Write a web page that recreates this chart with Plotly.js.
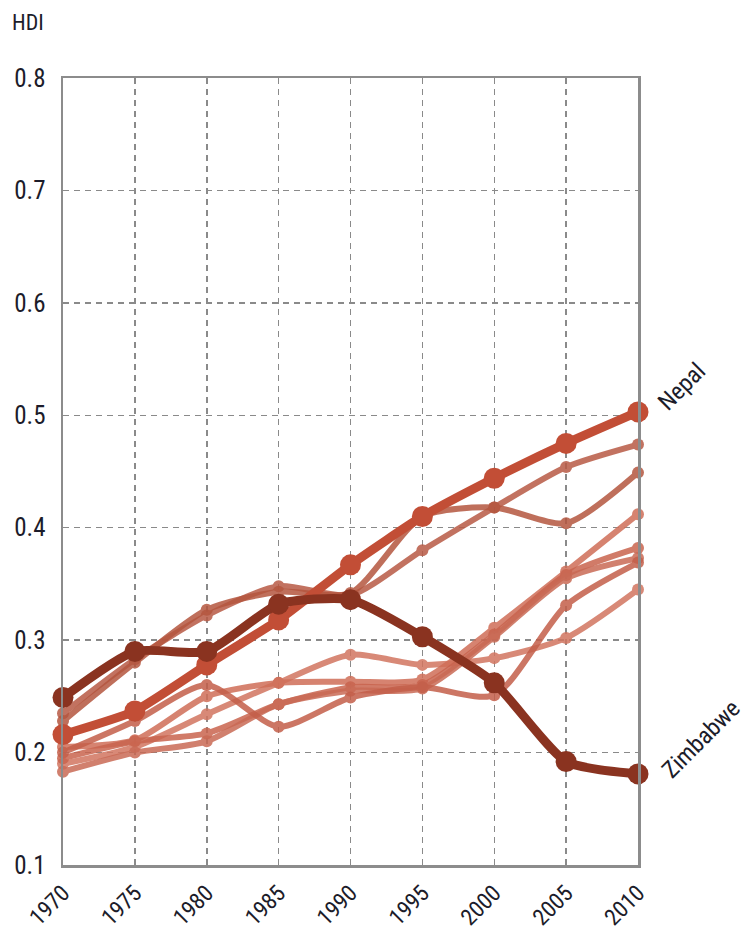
<!DOCTYPE html>
<html>
<head>
<meta charset="utf-8">
<script src="https://cdn.plot.ly/plotly-3.0.1.min.js"></script>
<style>html,body{margin:0;padding:0;background:#fff;}#chart{width:748px;height:937px;}</style>
</head>
<body>
<div id="chart"></div>
<script>
const years = [1970, 1975, 1980, 1985, 1990, 1995, 2000, 2005, 2010];
const yTicks = [0.1, 0.2, 0.3, 0.4, 0.5, 0.6, 0.7, 0.8];
const yTickLabels = ["0.1", "0.2", "0.3", "0.4", "0.5", "0.6", "0.7", "0.8"];

const nepal    = [0.216, 0.237, 0.278, 0.318, 0.367, 0.410, 0.444, 0.475, 0.503];
const zimbabwe = [0.249, 0.290, 0.290, 0.332, 0.336, 0.303, 0.262, 0.192, 0.181];

const countryA = [0.235, 0.283, 0.322, 0.348, 0.340, 0.380, 0.418, 0.454, 0.474];
const countryB = [0.228, 0.280, 0.327, 0.343, 0.342, 0.410, 0.418, 0.404, 0.449];
const countryC = [0.190, 0.205, 0.234, 0.262, 0.287, 0.278, 0.284, 0.302, 0.345];
const countryD = [0.205, 0.211, 0.250, 0.262, 0.263, 0.265, 0.311, 0.361, 0.412];
const countryE = [0.195, 0.210, 0.217, 0.243, 0.258, 0.260, 0.305, 0.358, 0.382];
const countryF = [0.183, 0.200, 0.210, 0.243, 0.255, 0.257, 0.303, 0.355, 0.373];
const countryG = [0.200, 0.228, 0.260, 0.223, 0.249, 0.258, 0.251, 0.331, 0.369];

const otherSeries = [
  {y: countryA, color: "#B85A45"},
  {y: countryB, color: "#B4563F"},
  {y: countryC, color: "#D27560"},
  {y: countryD, color: "#D06E58"},
  {y: countryE, color: "#C9644E"},
  {y: countryF, color: "#C96A55"},
  {y: countryG, color: "#C45F4A"}
];

const font = "'Liberation Sans Narrow', 'Roboto Condensed', 'Arial Narrow', 'Liberation Sans', sans-serif";
const textColor = "#1c1c2a";

const traces = otherSeries.map(s => ({
  x: years, y: s.y, type: "scatter", mode: "lines+markers",
  line: {color: s.color, width: 6, shape: "spline", smoothing: 0.7},
  marker: {color: s.color, size: 12},
  opacity: 0.85, cliponaxis: false, hoverinfo: "skip", showlegend: false
}));

traces.push({
  x: years, y: nepal, type: "scatter", mode: "lines+markers",
  line: {color: "#C24E36", width: 9, shape: "spline", smoothing: 0.5},
  marker: {color: "#C24E36", size: 21},
  cliponaxis: false, showlegend: false, hoverinfo: "skip"
});
traces.push({
  x: years, y: zimbabwe, type: "scatter", mode: "lines+markers",
  line: {color: "#8A3320", width: 9, shape: "spline", smoothing: 0.6},
  marker: {color: "#8A3320", size: 21},
  cliponaxis: false, showlegend: false, hoverinfo: "skip"
});

const layout = {
  width: 748, height: 937,
  margin: {l: 63, r: 110, t: 78, b: 72},
  paper_bgcolor: "#fff", plot_bgcolor: "#fff",
  font: {family: font, color: textColor, size: 22},
  xaxis: {
    range: [1970, 2010], tickvals: years, ticktext: years.map(String),
    tickangle: -45, tickfont: {family: font, size: 23, color: textColor},
    showgrid: true, gridcolor: "#8a8a8a", griddash: "6px,5px", gridwidth: 1.5,
    showline: true, linecolor: "#8c8c8c", linewidth: 2.5, mirror: true,
    zeroline: false, ticks: "", ticklabelstandoff: 3
  },
  yaxis: {
    range: [0.1, 0.8], tickvals: yTicks, ticktext: yTickLabels,
    tickfont: {family: font, size: 25, color: textColor},
    showgrid: true, gridcolor: "#8a8a8a", griddash: "6px,5px", gridwidth: 1.5,
    showline: true, linecolor: "#8c8c8c", linewidth: 2.5, mirror: true,
    zeroline: false, ticks: "", ticklabelstandoff: 10
  },
  annotations: [
    {text: "HDI", xref: "paper", yref: "paper", x: -0.061, y: 1.071,
     xanchor: "center", yanchor: "middle", showarrow: false,
     font: {family: font, size: 22, color: textColor}},
    {text: "Nepal", xref: "paper", yref: "paper", x: 1.075, y: 0.608,
     xanchor: "center", yanchor: "middle", showarrow: false, textangle: -45,
     font: {family: font, size: 24, color: textColor}},
    {text: "Zimbabwe", xref: "paper", yref: "paper", x: 1.11, y: 0.160,
     xanchor: "center", yanchor: "middle", showarrow: false, textangle: -45,
     font: {family: font, size: 24, color: textColor}}
  ]
};

Plotly.newPlot("chart", traces, layout, {staticPlot: true, displayModeBar: false});
</script>
</body>
</html>
